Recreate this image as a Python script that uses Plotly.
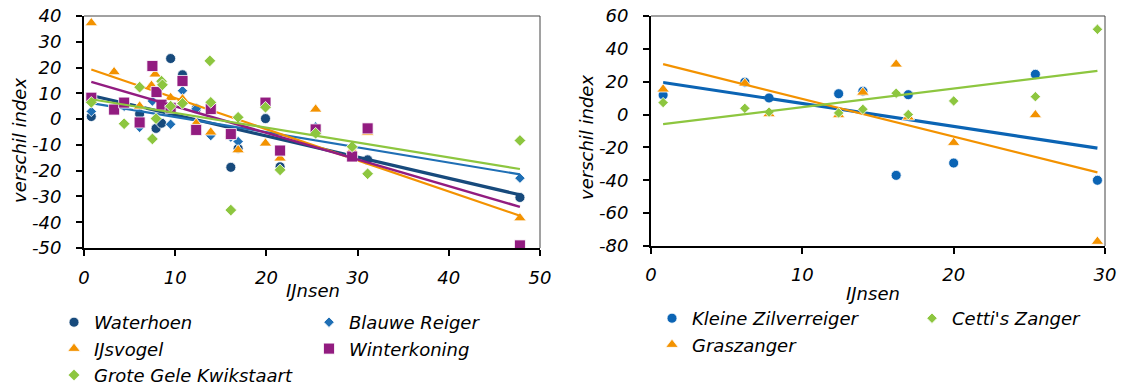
import numpy as np
import plotly.graph_objects as go

# ---------------- data: left panel ----------------
waterhoen_x = [0.8, 4.4, 6.1, 7.9, 8.5, 9.5, 10.8, 12.3, 16.1, 16.9, 19.9, 21.5, 25.4, 29.4, 31.1, 47.8]
waterhoen_y = [1.0, 6.5, 2.0, -3.6, -1.6, 23.5, 17.2, 4.0, -18.7, -11.4, 0.2, -18.5, -4.5, -13.0, -15.8, -30.4]

reiger_x = [0.8, 4.4, 6.1, 7.5, 9.5, 10.8, 12.3, 13.9, 16.1, 16.9, 19.9, 21.5, 25.4, 29.4, 47.8]
reiger_y = [3.0, 5.0, -3.2, 7.0, -2.0, 11.0, 4.0, -6.4, -7.0, -8.7, 5.5, -12.0, -3.0, -12.5, -22.9]

ijsvogel_x = [0.8, 3.3, 6.1, 7.4, 7.8, 9.5, 10.8, 12.3, 13.9, 16.1, 16.9, 19.9, 21.5, 25.4, 29.4, 31.1, 47.8]
ijsvogel_y = [37.3, 18.3, 5.0, 13.0, 17.4, 8.3, 7.8, -1.7, -5.1, -6.0, -12.0, -9.4, -15.2, 3.8, -12.0, -5.2, -38.4]

winterkoning_x = [0.8, 3.3, 4.4, 6.1, 7.5, 7.95, 8.5, 9.5, 10.8, 12.3, 13.9, 16.1, 19.9, 21.5, 25.4, 29.4, 31.1, 47.8]
winterkoning_y = [8.3, 3.7, 6.4, -1.3, 20.6, 10.5, 5.6, 4.4, 14.8, -4.2, 3.9, -5.8, 6.4, -12.2, -4.0, -14.5, -3.6, -49.0]

kwikstaart_x = [0.8, 4.4, 6.1, 7.5, 7.9, 8.5, 8.6, 9.5, 10.8, 13.8, 13.9, 16.1, 16.9, 19.9, 21.5, 25.4, 29.4, 31.1, 47.8]
kwikstaart_y = [6.5, -1.8, 12.4, -7.7, 0.2, 14.7, 13.3, 5.0, 6.1, 22.6, 6.5, -35.3, 0.7, 4.6, -19.7, -5.5, -10.7, -21.2, -8.3]

# ---------------- data: right panel ----------------
right_x = [0.8, 6.2, 7.8, 12.4, 14.0, 16.2, 17.0, 20.0, 25.4, 29.5]
zilverreiger_y = [11.9, 19.7, 10.1, 12.7, 14.2, -37.0, 12.1, -29.5, 24.5, -40.0]
graszanger_y = [15.4, 19.0, 0.4, -0.2, 13.5, 30.6, -1.6, -17.1, -0.2, -77.3]
cetti_y = [7.3, 3.8, 1.5, 1.0, 3.2, 13.0, 0.0, 8.3, 10.9, 51.9]

# tick labels
left_xticks = [0, 10, 20, 30, 40, 50]
left_yticks = [-50, -40, -30, -20, -10, 0, 10, 20, 30, 40]
right_xticks = [0, 10, 20, 30]
right_yticks = [-80, -60, -40, -20, 0, 20, 40, 60]

NAVY = "#174A7C"
BLUE = "#1F6FB5"
ORANGE = "#F39200"
PURPLE = "#921C80"
GREEN = "#8DC63F"
BLUE2 = "#0B64B4"

FONT = "DejaVu Sans"
W, H = 1131, 388
MB = 40            # bottom margin (room for legends without auto-margin push)
HP = H - MB        # plot-area height in px

fig = go.Figure()


def add_series(x, y, name, color, symbol, size, lw, xa, ya, legend):
    fig.add_trace(go.Scatter(
        x=x, y=y, mode="markers", name=name, xaxis=xa, yaxis=ya, legend=legend,
        marker=dict(color=color, symbol=symbol, size=size, line=dict(color="white", width=0.8)),
    ))
    xs = np.array(x, dtype=float)
    ys = np.array(y, dtype=float)
    k, b = np.polyfit(xs, ys, 1)
    lx = np.array([xs.min(), xs.max()])
    fig.add_trace(go.Scatter(
        x=lx, y=k * lx + b, mode="lines", xaxis=xa, yaxis=ya, showlegend=False,
        line=dict(color=color, width=lw), hoverinfo="skip",
    ))


# left panel: legend columns
add_series(waterhoen_x, waterhoen_y, "Waterhoen", NAVY, "circle", 10, 3.2, "x", "y", "legend")
add_series(reiger_x, reiger_y, "Blauwe Reiger", BLUE, "diamond", 8, 2.2, "x", "y", "legend2")
add_series(ijsvogel_x, ijsvogel_y, "IJsvogel", ORANGE, "triangle-up", 11, 2.2, "x", "y", "legend")
add_series(winterkoning_x, winterkoning_y, "Winterkoning", PURPLE, "square", 11, 2.5, "x", "y", "legend2")
add_series(kwikstaart_x, kwikstaart_y, "Grote Gele Kwikstaart", GREEN, "diamond", 9, 2.2, "x", "y", "legend")

# right panel
add_series(right_x, zilverreiger_y, "Kleine Zilverreiger", BLUE2, "circle", 10, 3.2, "x2", "y2", "legend3")
add_series(right_x, graszanger_y, "Graszanger", ORANGE, "triangle-up", 11, 2.2, "x2", "y2", "legend3")
add_series(right_x, cetti_y, "Cetti's Zanger", GREEN, "diamond", 8, 2.2, "x2", "y2", "legend4")


def px_x(p):
    return p / W


def px_y(p):
    return 1 - p / HP


tickfont = dict(family=FONT, size=18, color="black", style="italic")
axis_common = dict(showgrid=False, zeroline=False, showline=True, linecolor="black", linewidth=2,
                   ticks="outside", ticklen=6, tickwidth=1.5, tickcolor="black", tickfont=tickfont,
                   automargin=False)

fig.update_layout(
    width=W, height=H, margin=dict(l=0, r=0, t=0, b=MB, autoexpand=False),
    paper_bgcolor="white", plot_bgcolor="white",
    font=dict(family=FONT, size=17, color="black"),
    xaxis=dict(domain=[px_x(84), px_x(540)], range=[0, 50], tickvals=left_xticks,
               ticktext=[str(v) for v in left_xticks], anchor="y", ticklabelstandoff=6, **axis_common),
    yaxis=dict(domain=[px_y(248), px_y(16)], range=[-50, 40], tickvals=left_yticks,
               ticktext=[str(v) for v in left_yticks], anchor="x", ticklabelstandoff=11, **axis_common),
    xaxis2=dict(domain=[px_x(651), px_x(1105)], range=[0, 30], tickvals=right_xticks,
                ticktext=[str(v) for v in right_xticks], anchor="y2", ticklabelstandoff=5, **axis_common),
    yaxis2=dict(domain=[px_y(246), px_y(16)], range=[-80, 60], tickvals=right_yticks,
                ticktext=[str(v) for v in right_yticks], anchor="x2", ticklabelstandoff=11, **axis_common),
)

legend_font = dict(family=FONT, size=18, color="black", style="italic")
common_leg = dict(orientation="v", xanchor="left", yanchor="top", bgcolor="rgba(0,0,0,0)",
                  font=legend_font, itemclick=False)
fig.update_layout(
    legend=dict(x=px_x(54), y=px_y(304), **common_leg),
    legend2=dict(x=px_x(309), y=px_y(304), **common_leg),
    legend3=dict(x=px_x(652), y=px_y(300), **common_leg),
    legend4=dict(x=px_x(912), y=px_y(300), **common_leg),
)

# top and right frame lines (thin)
for xa, ya in (("x", "y"), ("x2", "y2")):
    fig.add_shape(type="line", xref=f"{xa} domain", yref=f"{ya} domain", x0=0, x1=1, y0=1, y1=1,
                  line=dict(color="#444444", width=1))
    fig.add_shape(type="line", xref=f"{xa} domain", yref=f"{ya} domain", x0=1, x1=1, y0=0, y1=1,
                  line=dict(color="#444444", width=1))

title_font = dict(family=FONT, size=18, color="black")
italic = lambda s: f"<i>{s}</i>"
fig.add_annotation(text=italic("verschil index"), xref="paper", yref="paper", x=px_x(19), y=px_y(141),
                   textangle=-90, showarrow=False, font=title_font, xanchor="center", yanchor="middle")
fig.add_annotation(text=italic("verschil index"), xref="paper", yref="paper", x=px_x(586), y=px_y(138),
                   textangle=-90, showarrow=False, font=title_font, xanchor="center", yanchor="middle")
fig.add_annotation(text=italic("IJnsen"), xref="paper", yref="paper", x=px_x(313), y=px_y(290),
                   showarrow=False, font=title_font, xanchor="center", yanchor="middle")
fig.add_annotation(text=italic("IJnsen"), xref="paper", yref="paper", x=px_x(873), y=px_y(293),
                   showarrow=False, font=title_font, xanchor="center", yanchor="middle")

fig.write_html("out.html")
